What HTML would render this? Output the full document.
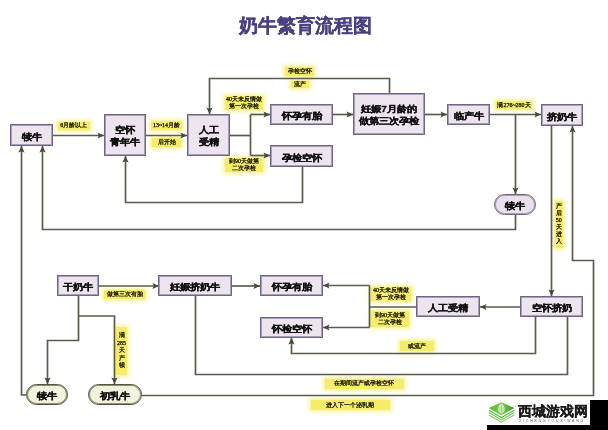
<!DOCTYPE html>
<html><head><meta charset="utf-8">
<style>
html,body{margin:0;padding:0;}
#wrap{position:absolute;left:0;top:0;width:608px;height:430px;filter:blur(0.3px);}
body{width:608px;height:430px;position:relative;overflow:hidden;background:#ffffff;font-family:"Liberation Sans",sans-serif;}
.title{position:absolute;left:238.5px;top:14px;font-size:18.6px;font-weight:bold;color:#4a4180;-webkit-text-stroke:0.25px #4a4180;white-space:nowrap;line-height:24px;}
svg{position:absolute;left:0;top:0;}
.box,.pillp,.pillg{position:absolute;box-sizing:border-box;display:flex;align-items:center;justify-content:center;text-align:center;font-weight:bold;font-size:10px;line-height:13px;color:#111;white-space:nowrap;}
.box span,.pillp span,.pillg span{position:relative;top:1px;-webkit-text-stroke:0.35px #111;display:inline-block;transform:scaleY(0.88);}
.box{background:#eee4ef;border:1px solid #6e6684;box-shadow:inset 0 0 0 1px #a89fb6;}
.pillp{background:#ebe1ee;border:1px solid #6e6684;box-shadow:inset 0 0 0 1px #a89fb6;border-radius:11px;}
.pillg{background:#f2f2dd;border:1px solid #4f523c;box-shadow:inset 0 0 0 1px #8f917a;border-radius:11px;}
.lab{position:absolute;box-sizing:border-box;background:#f4ec6a;box-shadow:0 0 3.5px 2px rgba(247,240,130,0.8);display:flex;align-items:center;justify-content:center;text-align:center;font-family:"Liberation Serif",serif;font-weight:normal;font-size:6px;line-height:7px;color:#0a0a00;-webkit-text-stroke:0.25px #0a0a00;white-space:nowrap;}
.lab.v{line-height:8px;}
.wm{position:absolute;left:487px;top:400px;width:103px;height:25px;background:#fff;}
.blk1{position:absolute;left:590px;top:400px;width:18px;height:30px;background:#000;}
.blk2{position:absolute;left:487px;top:425px;width:121px;height:5px;background:#000;}
.wmt{position:absolute;left:518px;top:403.5px;font-size:13.6px;font-weight:bold;color:#1c1c1c;-webkit-text-stroke:0.3px #1c1c1c;font-family:"Liberation Serif",serif;white-space:nowrap;line-height:16px;}
.wms{position:absolute;left:519px;top:419px;font-size:3.4px;letter-spacing:1.85px;color:#555;white-space:nowrap;line-height:5px;}
</style></head><body>
<div id="wrap">
<div class="title">奶牛繁育流程图</div>
<div class="lab" style="left:57.5px;top:121.5px;width:32.5px;height:8.0px"><span>6月龄以上</span></div>
<div class="lab" style="left:151px;top:121px;width:31px;height:8.5px"><span>13~14月龄</span></div>
<div class="lab" style="left:152px;top:138px;width:29px;height:8.5px"><span>后开始</span></div>
<div class="lab" style="left:225px;top:96px;width:38px;height:14px"><span>40天未反情做<br>第一次孕检</span></div>
<div class="lab" style="left:225px;top:157.5px;width:38px;height:14.5px"><span>到90天做第<br>二次孕检</span></div>
<div class="lab" style="left:285px;top:67px;width:29px;height:8.5px"><span>孕检空怀</span></div>
<div class="lab" style="left:291px;top:80.5px;width:17.5px;height:7.0px"><span>流产</span></div>
<div class="lab" style="left:496px;top:101px;width:36px;height:8px"><span>满276~280天</span></div>
<div class="lab" style="left:554.5px;top:200.5px;width:8.5px;height:47.0px;line-height:7px"><span>产<br>后<br>50<br>天<br>进<br>入</span></div>
<div class="lab" style="left:104px;top:290px;width:41px;height:9px"><span>做第三次有胎</span></div>
<div class="lab" style="left:116px;top:326.5px;width:11px;height:48.5px;line-height:7.5px"><span>满<br>285<br>天<br>产<br>犊</span></div>
<div class="lab" style="left:371px;top:286.5px;width:40px;height:14.5px"><span>40天未反情做<br>第一次孕检</span></div>
<div class="lab" style="left:371px;top:311px;width:38px;height:16px"><span>到90天做第<br>二次孕检</span></div>
<div class="lab" style="left:400px;top:341px;width:34px;height:10px"><span>或流产</span></div>
<div class="lab" style="left:325px;top:379px;width:78.5px;height:9.5px"><span>在期间流产或孕检空怀</span></div>
<div class="lab" style="left:310.5px;top:400px;width:79.5px;height:10px"><span>进入下一个泌乳期</span></div>
<svg width="608" height="430" viewBox="0 0 608 430">
<polyline points="53,135.5 104,135.5" fill="none" stroke="#5a5d4b" stroke-width="1.7"/>
<polygon points="97.50,138.60 104.00,135.50 97.50,132.40 98.80,135.50" fill="#46493a"/>
<polyline points="146,135.5 187,135.5" fill="none" stroke="#5a5d4b" stroke-width="1.7"/>
<polygon points="180.50,138.60 187.00,135.50 180.50,132.40 181.80,135.50" fill="#46493a"/>
<polyline points="230,135.5 250.5,135.5" fill="none" stroke="#5a5d4b" stroke-width="1.7"/>
<polyline points="250.5,114.5 250.5,155.5" fill="none" stroke="#5a5d4b" stroke-width="1.7"/>
<polyline points="250.5,114.5 270,114.5" fill="none" stroke="#5a5d4b" stroke-width="1.7"/>
<polygon points="263.50,117.60 270.00,114.50 263.50,111.40 264.80,114.50" fill="#46493a"/>
<polyline points="250.5,155.5 270,155.5" fill="none" stroke="#5a5d4b" stroke-width="1.7"/>
<polygon points="263.50,158.60 270.00,155.50 263.50,152.40 264.80,155.50" fill="#46493a"/>
<polyline points="333,114.5 353,114.5" fill="none" stroke="#5a5d4b" stroke-width="1.7"/>
<polygon points="346.50,117.60 353.00,114.50 346.50,111.40 347.80,114.50" fill="#46493a"/>
<polyline points="389.5,93 389.5,78.5 209.5,78.5 209.5,114" fill="none" stroke="#5a5d4b" stroke-width="1.7"/>
<polygon points="206.40,107.50 209.50,114.00 212.60,107.50 209.50,108.80" fill="#46493a"/>
<polyline points="425,114.5 447,114.5" fill="none" stroke="#5a5d4b" stroke-width="1.7"/>
<polygon points="440.50,117.60 447.00,114.50 440.50,111.40 441.80,114.50" fill="#46493a"/>
<polyline points="490,114.5 541,114.5" fill="none" stroke="#5a5d4b" stroke-width="1.7"/>
<polygon points="534.50,117.60 541.00,114.50 534.50,111.40 535.80,114.50" fill="#46493a"/>
<polyline points="515.5,114.5 515.5,194" fill="none" stroke="#5a5d4b" stroke-width="1.7"/>
<polygon points="512.40,187.50 515.50,194.00 518.60,187.50 515.50,188.80" fill="#46493a"/>
<polyline points="515.5,215 515.5,229.5 42.5,229.5 42.5,146" fill="none" stroke="#5a5d4b" stroke-width="1.7"/>
<polygon points="45.60,152.50 42.50,146.00 39.40,152.50 42.50,151.20" fill="#46493a"/>
<polyline points="302.5,167 302.5,202.5 125.5,202.5 125.5,156" fill="none" stroke="#5a5d4b" stroke-width="1.7"/>
<polygon points="128.60,162.50 125.50,156.00 122.40,162.50 125.50,161.20" fill="#46493a"/>
<polyline points="551.5,126 551.5,296" fill="none" stroke="#5a5d4b" stroke-width="1.7"/>
<polygon points="548.40,289.50 551.50,296.00 554.60,289.50 551.50,290.80" fill="#46493a"/>
<polyline points="142,395.5 593.5,395.5 593.5,260.5 572.5,260.5 572.5,126" fill="none" stroke="#5a5d4b" stroke-width="1.7"/>
<polygon points="575.60,132.50 572.50,126.00 569.40,132.50 572.50,131.20" fill="#46493a"/>
<polyline points="520,307 480,307" fill="none" stroke="#5a5d4b" stroke-width="1.7"/>
<polygon points="486.50,303.90 480.00,307.00 486.50,310.10 485.20,307.00" fill="#46493a"/>
<polyline points="416,307 369.5,307" fill="none" stroke="#5a5d4b" stroke-width="1.7"/>
<polyline points="369.5,285.5 369.5,327.5" fill="none" stroke="#5a5d4b" stroke-width="1.7"/>
<polyline points="369.5,285.5 323,285.5" fill="none" stroke="#5a5d4b" stroke-width="1.7"/>
<polygon points="329.50,282.40 323.00,285.50 329.50,288.60 328.20,285.50" fill="#46493a"/>
<polyline points="369.5,327.5 323,327.5" fill="none" stroke="#5a5d4b" stroke-width="1.7"/>
<polygon points="329.50,324.40 323.00,327.50 329.50,330.60 328.20,327.50" fill="#46493a"/>
<polyline points="535.5,317 535.5,353.5 291.5,353.5 291.5,338" fill="none" stroke="#5a5d4b" stroke-width="1.7"/>
<polygon points="294.60,344.50 291.50,338.00 288.40,344.50 291.50,343.20" fill="#46493a"/>
<polyline points="567.5,317 567.5,374.5 195.5,374.5 195.5,296" fill="none" stroke="#5a5d4b" stroke-width="1.7"/>
<polyline points="99,286 159,286" fill="none" stroke="#5a5d4b" stroke-width="1.7"/>
<polygon points="152.50,289.10 159.00,286.00 152.50,282.90 153.80,286.00" fill="#46493a"/>
<polyline points="232,286 260,286" fill="none" stroke="#5a5d4b" stroke-width="1.7"/>
<polygon points="253.50,289.10 260.00,286.00 253.50,282.90 254.80,286.00" fill="#46493a"/>
<polyline points="78.5,296 78.5,340.5 47.5,340.5 47.5,384" fill="none" stroke="#5a5d4b" stroke-width="1.7"/>
<polygon points="44.40,377.50 47.50,384.00 50.60,377.50 47.50,378.80" fill="#46493a"/>
<polyline points="78.5,316 114.5,316 114.5,384" fill="none" stroke="#5a5d4b" stroke-width="1.7"/>
<polygon points="111.40,377.50 114.50,384.00 117.60,377.50 114.50,378.80" fill="#46493a"/>
<polyline points="26,395 21.5,395 21.5,146" fill="none" stroke="#5a5d4b" stroke-width="1.7"/>
<polygon points="24.60,152.50 21.50,146.00 18.40,152.50 21.50,151.20" fill="#46493a"/>
</svg>
<div class="box" style="left:10px;top:124px;width:43px;height:22px"><span>犊牛</span></div>
<div class="box" style="left:104px;top:114px;width:42px;height:42px"><span>空怀<br>青年牛</span></div>
<div class="box" style="left:187px;top:114px;width:43px;height:42px"><span>人工<br>受精</span></div>
<div class="box" style="left:270px;top:104px;width:63px;height:21px"><span>怀孕有胎</span></div>
<div class="box" style="left:270px;top:145px;width:63px;height:22px"><span>孕检空怀</span></div>
<div class="box" style="left:353px;top:93px;width:72px;height:42px"><span>妊娠7月龄的<br>做第三次孕检</span></div>
<div class="box" style="left:447px;top:104px;width:43px;height:21px"><span>临产牛</span></div>
<div class="box" style="left:541px;top:104px;width:42px;height:22px"><span>挤奶牛</span></div>
<div class="pillp" style="left:494px;top:194px;width:42px;height:21px"><span>犊牛</span></div>
<div class="box" style="left:57px;top:275px;width:42px;height:21px"><span>干奶牛</span></div>
<div class="box" style="left:158px;top:275px;width:74px;height:21px"><span>妊娠挤奶牛</span></div>
<div class="box" style="left:260px;top:275px;width:63px;height:21px"><span>怀孕有胎</span></div>
<div class="box" style="left:260px;top:317px;width:63px;height:21px"><span>怀检空怀</span></div>
<div class="box" style="left:416px;top:296px;width:64px;height:21px"><span>人工受精</span></div>
<div class="box" style="left:520px;top:296px;width:63px;height:21px"><span>空怀挤奶</span></div>
<div class="pillg" style="left:26px;top:384px;width:42px;height:21px"><span>犊牛</span></div>
<div class="pillg" style="left:88px;top:384px;width:54px;height:21px"><span>初乳牛</span></div>
<div class="wm"></div>
<svg style="left:484px;top:398px" width="36" height="28" viewBox="0 0 36 28">
<defs><linearGradient id="lg" x1="0" y1="0" x2="1" y2="0"><stop offset="0" stop-color="#52bb30"/><stop offset="0.5" stop-color="#7ccc55"/><stop offset="1" stop-color="#2f9c1c"/></linearGradient></defs>
<polyline points="4.8,12.3 17.4,19.6 30.1,12.3" fill="none" stroke="#5cb83c" stroke-width="1.1"/>
<polyline points="4.8,14.6 17.4,21.9 30.1,14.6" fill="none" stroke="#6cc04c" stroke-width="1.1"/>
<polyline points="4.8,16.9 17.4,24.2 30.1,16.9" fill="none" stroke="#7fc962" stroke-width="1.1"/>
<polygon points="4.6,9.9 17.4,4.2 30.3,9.9 17.4,17.4" fill="url(#lg)"/>
<path d="M17.4,5.5 C20.5,7.5 21,11 20.2,13.5 L17.4,16 L14.6,13.5 C13.8,11 14.3,7.5 17.4,5.5 Z" fill="#dff2cf"/>
<path d="M17.4,6.5 L17.4,15.5 M15.8,9 L15.8,13.5 M19,9 L19,13.5" stroke="#7cc35a" stroke-width="0.7"/>
</svg>
<div class="wmt">西城游戏网</div>
<div class="wms">XICHENGYOUXIWANG</div>
</div>
<div class="blk1"></div><div class="blk2"></div>
</body></html>
